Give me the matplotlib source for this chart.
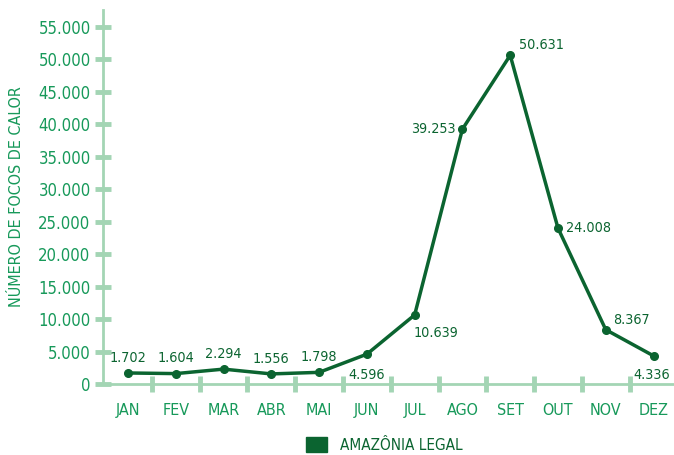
import matplotlib.pyplot as plt
from matplotlib.patches import Patch

# focos de calor por mes - Amazonia Legal
meses = ['JAN', 'FEV', 'MAR', 'ABR', 'MAI', 'JUN', 'JUL', 'AGO', 'SET', 'OUT', 'NOV', 'DEZ']
focos = [1702, 1604, 2294, 1556, 1798, 4596, 10639, 39253, 50631, 24008, 8367, 4336]
rotulos = ['1.702', '1.604', '2.294', '1.556', '1.798', '4.596', '10.639', '39.253', '50.631', '24.008', '8.367', '4.336']
y_ticks = list(range(0, 55001, 5000))

# onde fica cada rotulo em relacao ao ponto (dx, dy em pontos, ha, va)
posicoes = [(0, 6, 'center', 'bottom')] * 5 + [
    (0, -10, 'center', 'top'),
    (-1, -8, 'left', 'top'),
    (-5, 0, 'right', 'center'),
    (6, 2, 'left', 'bottom'),
    (6, 0, 'left', 'center'),
    (5, 2, 'left', 'bottom'),
    (-1, -9, 'center', 'top'),
]

VERDE_ESCURO = '#0b6430'
VERDE = '#17995a'
VERDE_CLARO = '#a3d5b4'

plt.rcParams['font.family'] = ['DejaVu Sans']
plt.rcParams['font.stretch'] = 'condensed'

fig = plt.figure(figsize=(6.74, 4.55), dpi=100)
ax = fig.add_axes([0.153, 0.156, 0.845, 0.822])

x = list(range(len(meses)))
ax.plot(x, focos, color=VERDE_ESCURO, lw=2.5, marker='o', ms=5.5, zorder=3, clip_on=False)

for i, (v, txt) in enumerate(zip(focos, rotulos)):
    dx, dy, ha, va = posicoes[i]
    ax.annotate(txt, (i, v), xytext=(dx, dy), textcoords='offset points',
                ha=ha, va=va, fontsize=10.3, color=VERDE_ESCURO)

ax.set_xlim(-0.52, 11.4)
ax.set_ylim(0, 57600)

for s in ['top', 'right']:
    ax.spines[s].set_visible(False)
for s in ['left', 'bottom']:
    ax.spines[s].set_color(VERDE_CLARO)
    ax.spines[s].set_linewidth(2)

ax.set_yticks(y_ticks)
ax.set_yticklabels(['0' if t == 0 else f'{t:,}'.replace(',', '.') for t in y_ticks])
ax.tick_params(axis='y', direction='inout', length=12, width=3.5, color=VERDE_CLARO,
               labelcolor=VERDE, labelsize=12, pad=3)

ax.set_xticks(x)
ax.set_xticklabels(meses)
ax.set_xticks([i + 0.5 for i in range(11)], minor=True)
ax.tick_params(axis='x', which='major', length=0, labelcolor=VERDE, labelsize=11.5, pad=14)
ax.tick_params(axis='x', which='minor', direction='inout', length=11, width=3.5, color=VERDE_CLARO)

ax.set_ylabel('NÚMERO DE FOCOS DE CALOR', color=VERDE, fontsize=11.5, labelpad=10)

fig.legend(handles=[Patch(color=VERDE_ESCURO)], labels=['AMAZÔNIA LEGAL'],
           loc='center', bbox_to_anchor=(0.57, 0.022), frameon=False,
           handlelength=1.4, handleheight=1.1, fontsize=11, labelcolor=VERDE_ESCURO)

fig.savefig('out.png', dpi=100)
